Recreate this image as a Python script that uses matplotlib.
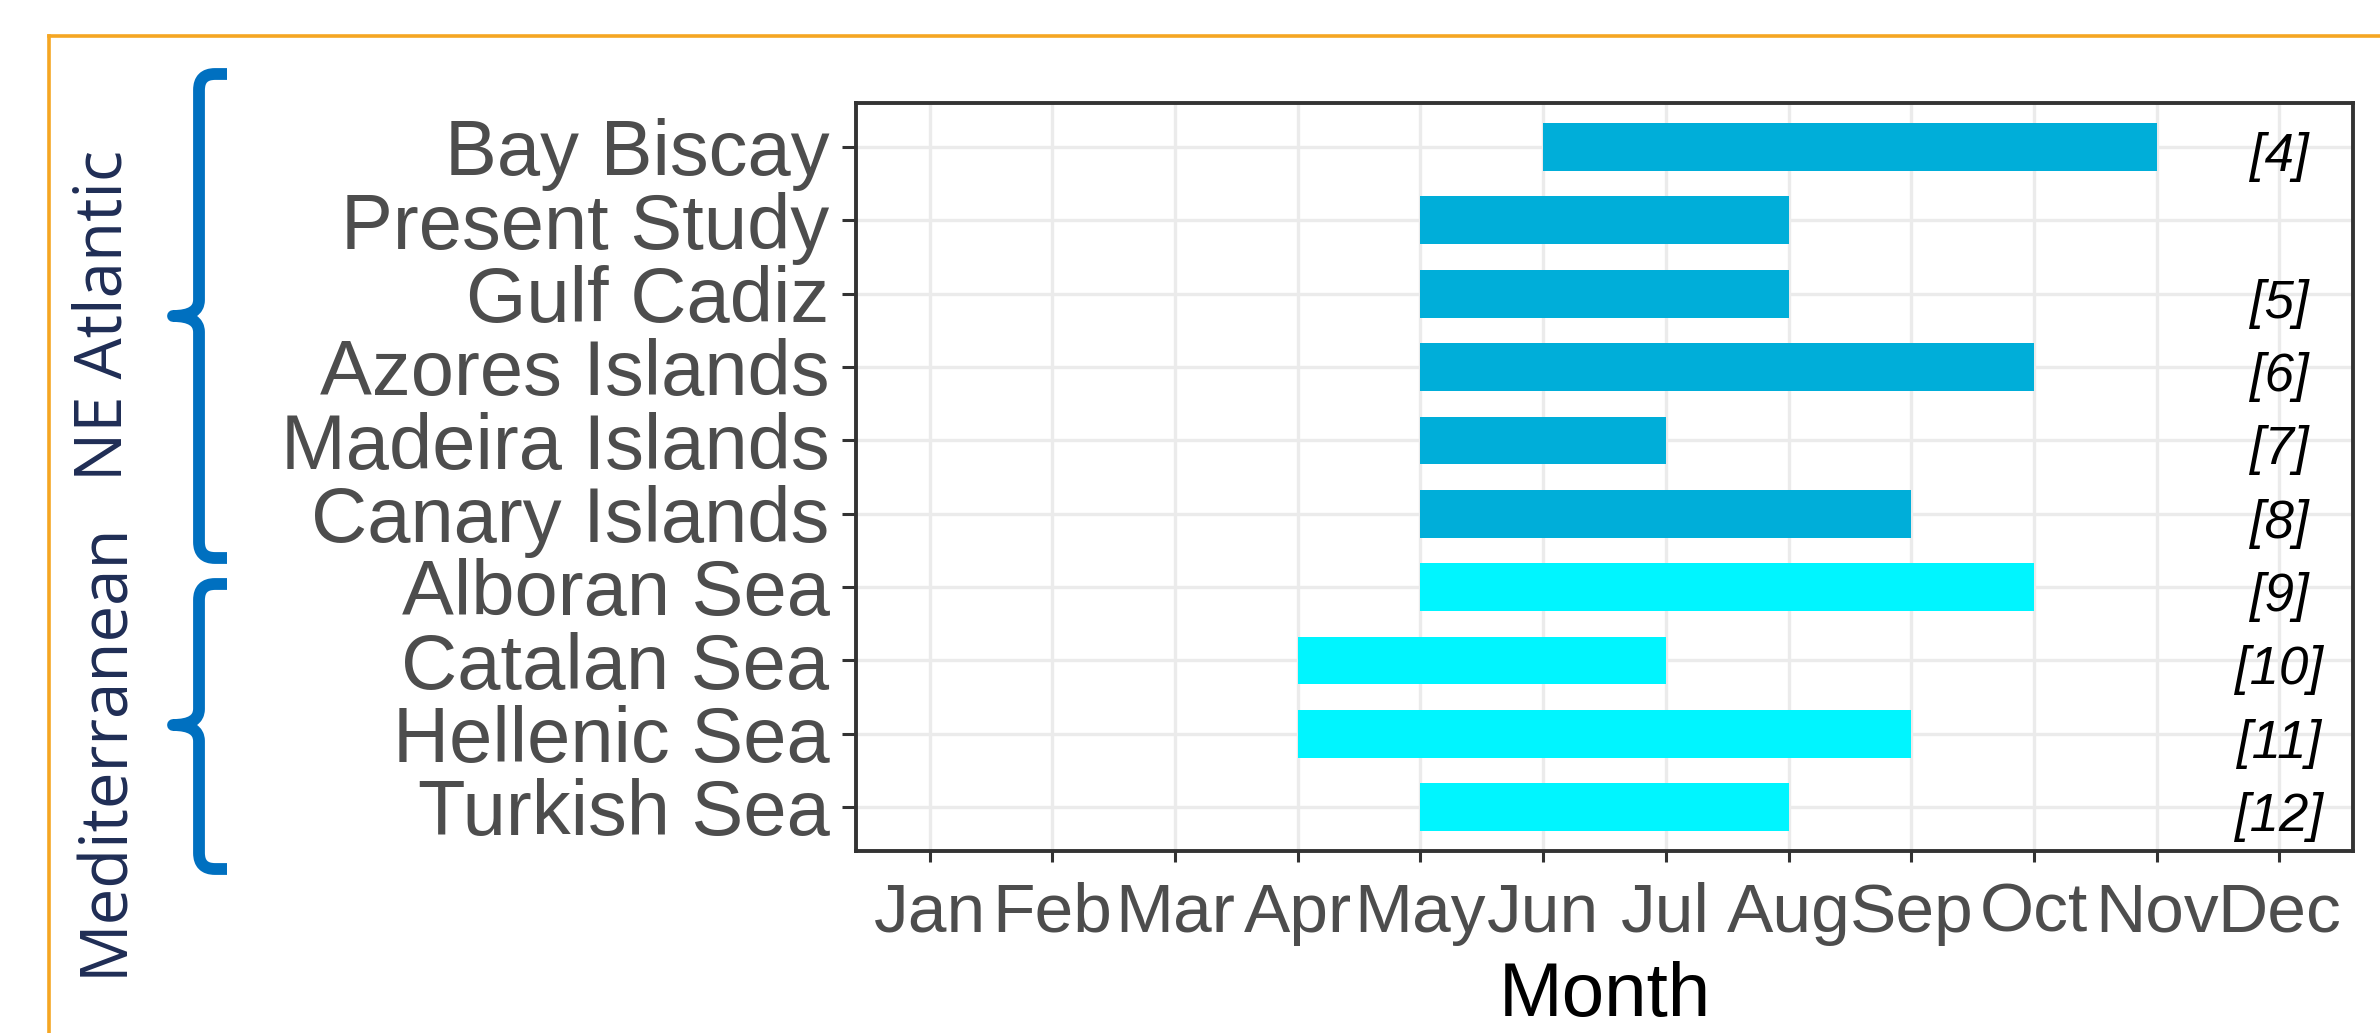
import matplotlib
matplotlib.use("Agg")
import matplotlib.pyplot as plt
from matplotlib.path import Path
from matplotlib.patches import PathPatch
from matplotlib.lines import Line2D

# spawning season per study area (month numbers, Jan = 1)
sites = ["Bay Biscay", "Present Study", "Gulf Cadiz", "Azores Islands",
         "Madeira Islands", "Canary Islands", "Alboran Sea", "Catalan Sea",
         "Hellenic Sea", "Turkish Sea"]
start_month = [6, 5, 5, 5, 5, 5, 5, 4, 4, 5]
end_month = [11, 8, 8, 10, 7, 9, 10, 7, 9, 8]
region = ["NE Atlantic"] * 6 + ["Mediterranean"] * 4
refs = ["[4]", "", "[5]", "[6]", "[7]", "[8]", "[9]", "[10]", "[11]", "[12]"]
months = ["Jan", "Feb", "Mar", "Apr", "May", "Jun", "Jul", "Aug", "Sep",
          "Oct", "Nov", "Dec"]

region_colors = {"NE Atlantic": "#00AED9", "Mediterranean": "#00F5FF"}

W, H = 2380, 1033
fig = plt.figure(figsize=(W / 100, H / 100), dpi=100)
fig.patch.set_facecolor("white")

ax = fig.add_axes([856 / W, 1 - 851 / H, (2353 - 856) / W, (851 - 103) / H])

n = len(sites)
ypos = [n - i for i in range(n)]
widths = [e - s for s, e in zip(start_month, end_month)]
colors = [region_colors[r] for r in region]
ax.barh(ypos, widths, left=start_month, height=0.65, color=colors, zorder=2)

for y, r in zip(ypos, refs):
    if r:
        ax.annotate(r, (12, y), xytext=(0, -10), textcoords="offset pixels",
                    ha="center", va="center", fontsize=38, style="italic",
                    family="Liberation Sans", color="black", zorder=3)

ax.set_xlim(0.4, 12.6)
ax.set_ylim(0.4, n + 0.6)
ax.set_xticks(range(1, 13))
ax.set_xticklabels(months)
ax.set_yticks(ypos)
ax.set_yticklabels(sites)

ax.grid(True, color="#EBEBEB", lw=2.4, zorder=0)
ax.set_axisbelow(True)
for sp in ax.spines.values():
    sp.set_color("#333333")
    sp.set_linewidth(2.8)

ax.tick_params(axis="y", labelsize=56, labelcolor="#4D4D4D", color="#333333",
               length=10, width=2.2, pad=9)
ax.tick_params(axis="x", labelsize=50, labelcolor="#4D4D4D", color="#333333",
               length=8, width=2.2, pad=14)
for lab in ax.get_xticklabels() + ax.get_yticklabels():
    lab.set_family("Liberation Sans")

ax.set_xlabel("Month", fontsize=55, family="Liberation Sans", color="black",
              labelpad=11)

# orange frame around the panel (top and left edges)
orange = "#F5A623"
fig.add_artist(Line2D([49 / W, 1], [1 - 36 / H, 1 - 36 / H], color=orange,
                      lw=2.6, transform=fig.transFigure))
fig.add_artist(Line2D([49 / W, 49 / W], [0, 1 - 36 / H], color=orange,
                      lw=2.6, transform=fig.transFigure))


def brace(top, tip, bot, xv=199, xr=227, xt=173, r=16):
    verts = [(xr, top), (xv + r, top), (xv, top), (xv, top + r),
             (xv, tip - r), (xv, tip), (xt, tip),
             (xv, tip), (xv, tip + r),
             (xv, bot - r), (xv, bot), (xv + r, bot), (xr, bot)]
    codes = [Path.MOVETO, Path.LINETO, Path.CURVE3, Path.CURVE3,
             Path.LINETO, Path.CURVE3, Path.CURVE3,
             Path.CURVE3, Path.CURVE3,
             Path.LINETO, Path.CURVE3, Path.CURVE3, Path.LINETO]
    verts = [(x / W, 1 - y / H) for x, y in verts]
    p = PathPatch(Path(verts, codes), fill=False, edgecolor="#0070C0",
                  lw=8.5, capstyle="butt", joinstyle="round",
                  transform=fig.transFigure)
    fig.add_artist(p)


brace(74, 316, 558)
brace(584, 725, 869)

navy = "#1F2D55"
fig.text(105 / W, 1 - 315 / H, "NE Atlantic", rotation=90, ha="center",
         va="center", fontsize=47, color=navy, family="Open Sans")
fig.text(105 / W, 1 - 749 / H, "Mediterranean", rotation=90, ha="center",
         va="center", fontsize=47, color=navy, family="Open Sans")

fig.savefig("out.png", dpi=100, facecolor="white")
